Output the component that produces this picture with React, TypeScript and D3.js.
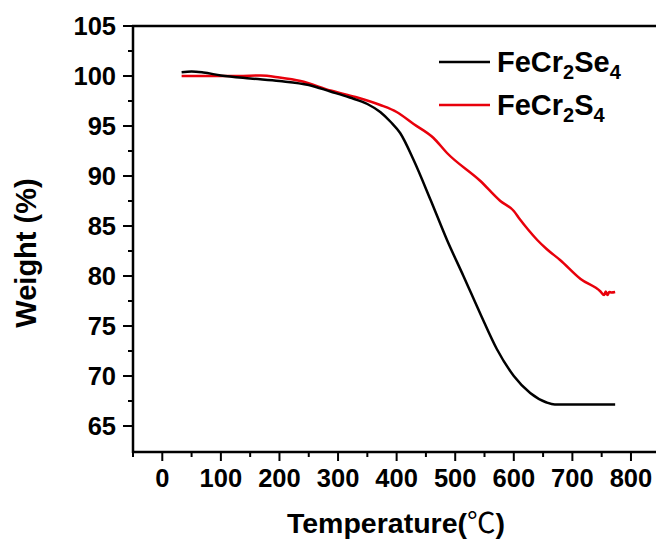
import React from "react";
import * as d3 from "d3";

const seTemp = [33, 50, 70, 100, 150, 200, 250, 287, 320, 350, 372, 390, 406, 429, 458, 486, 514, 543, 571, 600, 628, 656, 670, 720, 773];
const seWeight = [100.38, 100.45, 100.35, 100.05, 99.75, 99.5, 99.1, 98.45, 97.85, 97.2, 96.4, 95.4, 94.3, 91.6, 87.6, 83.6, 80.0, 76.2, 72.7, 70.0, 68.3, 67.35, 67.15, 67.15, 67.15];

const sTemp = [33, 60, 100, 130, 168, 200, 236, 287, 330, 372, 400, 429, 463, 486, 543, 577, 600, 610, 625, 640, 656, 679, 714, 748, 754, 757, 760, 763, 767, 773];
const sWeight = [100.0, 100.0, 100.0, 100.0, 100.05, 99.85, 99.5, 98.55, 97.9, 97.1, 96.4, 95.2, 93.8, 92.3, 89.5, 87.5, 86.5, 85.7, 84.6, 83.6, 82.7, 81.6, 79.7, 78.45, 78.1, 78.45, 78.1, 78.4, 78.35, 78.4];

const xTicks = [0, 100, 200, 300, 400, 500, 600, 700, 800];
const xMinor = [-50, 50, 150, 250, 350, 450, 550, 650, 750];
const yTicks = [65, 70, 75, 80, 85, 90, 95, 100, 105];
const yMinor = [67.5, 72.5, 77.5, 82.5, 87.5, 92.5, 97.5, 102.5];

const seriesNames = ["FeCr2Se4", "FeCr2S4"];
const seriesColors = ["#000000", "#e8000b"];

const W = 656, H = 541;
const left = 133, top = 26, right = 654.4, bottom = 452;
const font = "'Liberation Sans', Arial, sans-serif";

export default function App() {
  const x = d3.scaleLinear().domain([-50, 840]).range([left, right]);
  const y = d3.scaleLinear().domain([62.4, 105]).range([bottom, top]);
  const line = d3.line<[number, number]>().x(d => x(d[0])).y(d => y(d[1])).curve(d3.curveMonotoneX);
  const seData: [number, number][] = seTemp.map((t, i) => [t, seWeight[i]]);
  const sData: [number, number][] = sTemp.map((t, i) => [t, sWeight[i]]);
  const sw = 2.5;
  return (
    <svg width={W} height={H} style={{ position: "absolute", left: 0, top: 0, background: "#fff" }} fontFamily={font}>
      <rect width={W} height={H} fill="#fff" />
      <path d={line(sData) || ""} fill="none" stroke={seriesColors[1]} strokeWidth={sw} />
      <path d={line(seData) || ""} fill="none" stroke={seriesColors[0]} strokeWidth={sw} />
      {/* axes */}
      <line x1={left} x2={left} y1={top} y2={bottom + 1} stroke="#000" strokeWidth={2.5} />
      <line x1={left - 1} x2={W} y1={bottom} y2={bottom} stroke="#000" strokeWidth={2.5} />
      <line x1={left - 1} x2={W} y1={top} y2={top} stroke="#000" strokeWidth={2.5} />
      {yTicks.map(v => (
        <g key={"y" + v}>
          <line x1={left - 10} x2={left} y1={y(v)} y2={y(v)} stroke="#000" strokeWidth={2} />
          <text x={left - 17} y={y(v)} dy="0.36em" textAnchor="end" fontSize={25.5} fontWeight="bold">{v}</text>
        </g>
      ))}
      {yMinor.map(v => (
        <line key={"ym" + v} x1={left - 5} x2={left} y1={y(v)} y2={y(v)} stroke="#000" strokeWidth={2} />
      ))}
      {xTicks.map(v => (
        <g key={"x" + v}>
          <line x1={x(v)} x2={x(v)} y1={bottom} y2={bottom + 9} stroke="#000" strokeWidth={2} />
          <text x={x(v)} y={bottom + 35} textAnchor="middle" fontSize={25.5} fontWeight="bold">{v}</text>
        </g>
      ))}
      {xMinor.map(v => (
        <line key={"xm" + v} x1={x(v)} x2={x(v)} y1={bottom} y2={bottom + 5} stroke="#000" strokeWidth={2} />
      ))}
      <text transform={`translate(36,253) rotate(-90)`} textAnchor="middle" fontSize={29} fontWeight="bold">Weight (%)</text>
      <text x={396} y={533} textAnchor="middle" fontSize={28.5} fontWeight="bold">Temperature(<tspan fontFamily="'Noto Sans CJK SC', serif" fontWeight="normal">℃</tspan>)</text>
      {/* legend */}
      {seriesNames.map((n, i) => {
        const ly = 62 + i * 43;
        return (
          <g key={n}>
            <line x1={439} x2={490} y1={ly} y2={ly} stroke={seriesColors[i]} strokeWidth={sw} />
            <text x={497} y={ly + 10} fontSize={29} fontWeight="bold">
              {n === "FeCr2Se4" ? (
                <>FeCr<tspan fontSize={20} dy={7}>2</tspan><tspan dy={-7}>Se</tspan><tspan fontSize={20} dy={7}>4</tspan></>
              ) : (
                <>FeCr<tspan fontSize={20} dy={7}>2</tspan><tspan dy={-7}>S</tspan><tspan fontSize={20} dy={7}>4</tspan></>
              )}
            </text>
          </g>
        );
      })}
    </svg>
  );
}
